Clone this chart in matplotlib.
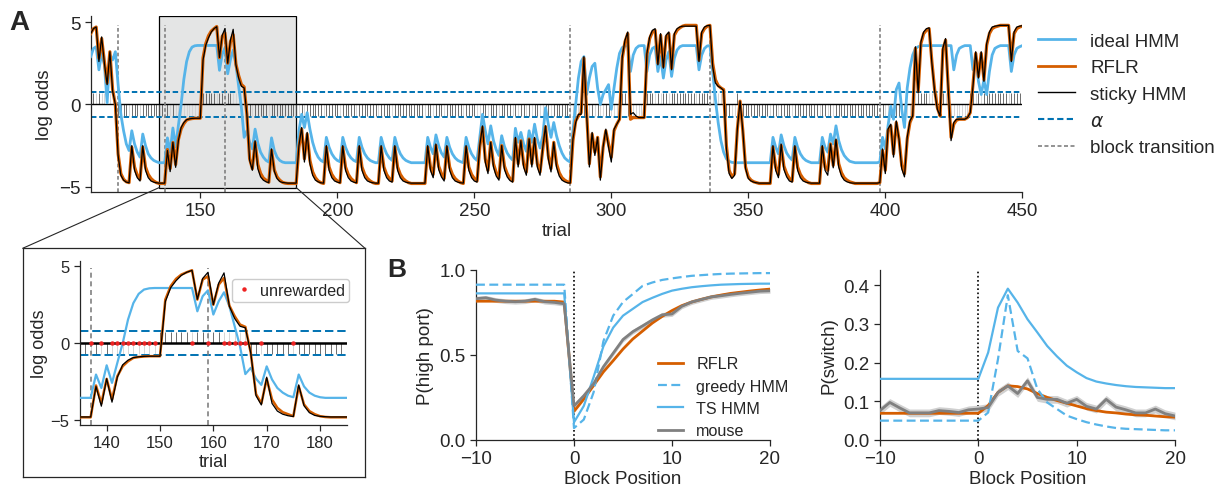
import numpy as np
import matplotlib
matplotlib.use("Agg")
import matplotlib.pyplot as plt
from matplotlib.patches import Rectangle, ConnectionPatch
from matplotlib.lines import Line2D

# ---------------- data: panel A (log odds per trial, trials 110..450) ----------------
first_trial, last_trial = 110, 450

ideal_hmm = [
    2.9, 3.4, 3.5, 2.1, 3.1, 2.4, 0.1, 3.0, 2.7, 3.2,
    1.2, -0.6, -1.6, -2.4, -2.8, -1.6, -2.4, -2.9, -3.2, -1.8,
    -2.5, -3.0, -3.25, -3.4, -3.48, -3.54, -3.54, -3.54, -2.03, -2.9,
    -1.43, -2.57, -1.27, 0.0, 1.53, 2.6, 3.2, 3.48, 3.56, 3.58,
    3.58, 3.58, 3.58, 3.58, 3.58, 3.58, 3.58, 2.07, 3.05, 3.43,
    1.86, 2.72, 3.3, 2.4, 1.1, -0.2, -2.0, -1.6, -2.3, -2.7,
    -1.5, -2.35, -2.9, -3.2, -3.4, -3.5, -2.03, -2.8, -3.2, -3.4,
    -3.5, -3.54, -3.54, -3.54, -3.54, -3.54, -1.6, -0.6, -1.4, -0.5,
    -1.5, -2.3, -2.85, -3.2, -3.4, -3.5, -2.0, -2.6, -3.0, -3.25,
    -3.4, -3.48, -2.0, -2.6, -3.0, -3.25, -3.4, -3.48, -2.0, -2.6,
    -3.0, -3.25, -3.4, -3.48, -3.54, -3.54, -2.0, -2.6, -3.0, -3.25,
    -3.4, -2.0, -2.6, -3.0, -3.25, -3.4, -3.48, -3.54, -3.54, -3.54,
    -3.54, -3.54, -3.54, -2.0, -2.6, -3.0, -1.85, -2.5, -2.95, -3.2,
    -2.0, -2.6, -3.0, -3.25, -3.4, -3.48, -3.54, -2.0, -2.6, -3.0,
    -3.25, -3.4, -2.0, -0.6, -1.6, -2.4, -1.3, -2.2, -2.75, -3.1,
    -1.9, -2.55, -2.95, -3.2, -3.38, -1.45, -2.3, -1.7, -2.4, -2.85,
    -1.6, -2.3, -1.2, -2.1, -2.65, -1.9, -0.2, -1.2, -2.0, -1.1,
    -1.9, -2.5, -2.95, -3.25, -3.4, -3.5, -1.6, 0.0, 1.6, 2.6,
    2.9, 0.6, 1.6, 2.3, 2.5, 1.0, 0.0, 0.6, 0.9, 1.2,
    -0.3, 1.0, 2.2, 3.1, 3.45, 3.55, 3.57, 2.0, 3.0, 3.4,
    3.55, 3.57, 3.57, 2.0, 3.0, 3.4, 3.5, 2.0, 2.9, 1.6,
    2.7, 3.2, 1.7, 2.8, 3.3, 3.5, 3.57, 3.57, 3.57, 3.57,
    3.57, 3.57, 2.1, 3.0, 3.4, 3.55, 3.57, 2.0, 0.3, -1.1,
    -2.2, -2.9, -3.3, -3.45, -3.52, -3.54, -3.54, -3.54, -3.54, -3.54,
    -3.54, -3.54, -3.54, -3.54, -3.54, -3.54, -3.54, -3.54, -3.54, -2.0,
    -2.6, -3.0, -1.85, -2.5, -2.95, -3.2, -3.38, -2.0, -2.6, -3.0,
    -3.25, -3.4, -3.48, -3.54, -3.54, -3.54, -3.54, -2.0, -2.6, -2.9,
    -1.8, -2.4, -1.3, -2.2, -2.75, -3.1, -3.3, -3.45, -3.5, -3.54,
    -3.54, -3.54, -3.54, -3.54, -3.54, -3.54, -3.54, -3.54, -3.5, -2.0,
    -2.7, -1.3, -0.1, -0.9, 0.9, 1.3, -0.3, -1.4, 1.0, 2.2,
    3.0, 3.4, 3.5, 3.57, 3.57, 3.57, 3.57, 3.57, 3.57, 3.57,
    3.57, 3.57, 3.57, 3.57, 3.57, 2.1, 3.0, 3.4, 3.5, 3.57,
    3.57, 3.57, 2.1, 2.9, 1.4, 0.6, 1.5, 0.6, 2.0, 3.0,
    3.4, 3.5, 3.57, 3.57, 3.57, 3.57, 2.0, 3.0, 3.4, 3.5,
    3.57,
]

rflr = [
    4.3, 4.6, 4.7, 2.8, 4.0, 2.6, 1.3, 3.2, 0.9, 0.0,
    -3.0, -4.2, -4.55, -4.7, -4.75, -2.6, -3.8, -4.3, -4.55, -2.6,
    -3.8, -4.25, -4.5, -4.65, -4.75, -4.8, -4.8, -4.8, -2.74, -3.9,
    -2.31, -3.65, -2.14, -1.49, -1.17, -0.95, -0.89, -0.86, -0.84, -0.84,
    -0.84, 2.83, 3.7, 4.17, 4.45, 4.6, 4.73, 2.83, 4.13, 4.34,
    2.5, 3.8, 4.23, 2.44, 1.75, 1.21, 1.06, -0.6, -3.3, -3.9,
    -2.31, -3.65, -4.19, -4.47, -4.6, -4.73, -2.79, -3.97, -4.4, -4.6,
    -4.73, -4.78, -4.8, -4.8, -4.8, -4.8, -2.6, -1.5, -3.3, -1.8,
    -3.4, -4.1, -4.45, -4.65, -4.75, -4.8, -2.6, -3.8, -4.25, -4.5,
    -4.65, -4.75, -2.6, -3.8, -4.25, -4.5, -4.65, -4.75, -2.6, -3.8,
    -4.25, -4.5, -4.65, -4.75, -4.8, -4.8, -2.6, -3.8, -4.25, -4.5,
    -4.65, -2.6, -3.8, -4.25, -4.5, -4.65, -4.75, -4.8, -4.8, -4.8,
    -4.8, -4.8, -4.8, -2.6, -3.8, -4.25, -2.5, -3.75, -4.2, -4.5,
    -2.6, -3.8, -4.25, -4.5, -4.65, -4.75, -4.8, -2.6, -3.8, -4.25,
    -4.5, -4.65, -2.6, -1.4, -3.3, -4.0, -2.3, -3.6, -4.15, -4.45,
    -2.5, -3.75, -4.2, -4.5, -4.65, -2.1, -3.6, -2.2, -3.6, -4.1,
    -2.1, -3.6, -2.1, -3.6, -4.1, -2.7, -1.35, -3.1, -3.9, -2.3,
    -3.6, -4.15, -4.45, -4.6, -4.7, -4.75, -2.2, -1.0, -0.7, -0.5,
    2.8, -0.5, -3.6, -1.8, -2.9, -2.0, -4.4, -2.6, -1.6, -2.4,
    -3.2, -1.6, -1.2, -0.9, 2.8, 3.8, 4.3, -0.9, -0.8, -0.8,
    -0.8, -0.8, -0.8, 3.0, 4.0, 4.4, 4.5, 2.5, 4.2, 2.3,
    4.1, 4.3, 2.2, 4.2, 4.5, 4.65, 4.75, 4.8, 4.8, 4.8,
    4.8, 4.8, 2.7, 4.3, 4.6, 4.75, 4.8, 2.5, 1.5, 1.15,
    1.0, 0.9, -2.5, -4.0, -4.4, -4.2, -1.5, 0.2, -1.6, -3.8,
    -4.4, -4.6, -4.7, -4.75, -4.8, -4.8, -4.8, -4.8, -4.8, -2.6,
    -3.8, -4.25, -2.5, -3.75, -4.2, -4.5, -4.65, -2.6, -3.8, -4.25,
    -4.5, -4.65, -4.75, -4.8, -4.8, -4.8, -4.8, -2.6, -3.8, -4.0,
    -2.4, -3.7, -2.2, -3.6, -4.15, -4.45, -4.6, -4.7, -4.75, -4.8,
    -4.8, -4.8, -4.8, -4.8, -4.8, -4.8, -4.8, -4.8, -4.75, -2.8,
    -4.0, -1.6, -1.3, -3.0, -1.1, -2.1, -3.7, -4.2, -2.1, -1.1,
    -0.7, 3.4, 0.8, 3.7, 4.3, 4.5, 4.6, 2.6, 0.9, -0.2,
    -0.7, 3.3, 3.9, 0.9, -2.0, -1.2, -0.95, -0.9, -0.9, -0.9,
    -0.8, -0.5, 1.2, 3.1, 1.7, 3.1, 1.5, 3.6, 4.3, 4.6,
    4.7, 4.75, 4.8, 4.8, 4.8, 4.8, 2.7, 4.3, 4.6, 4.7,
    4.75,
]

sticky_hmm = [
    4.3, 4.6, 4.7, 2.6, 4.1, 2.5, 1.2, 3.2, 0.8, 0.0,
    -3.1, -4.3, -4.6, -4.72, -4.76, -2.5, -4.0, -4.45, -4.65, -2.5,
    -4.0, -4.45, -4.65, -4.72, -4.76, -4.78, -4.78, -4.78, -2.8, -4.08,
    -2.3, -3.82, -2.2, -1.4, -1.1, -0.93, -0.88, -0.85, -0.84, -0.84,
    -0.84, 2.7, 3.6, 4.05, 4.4, 4.6, 4.72, 2.85, 4.2, 4.6,
    2.5, 3.9, 4.56, 2.4, 1.6, 1.1, 1.0, -0.6, -3.4, -4.0,
    -2.2, -3.9, -4.4, -4.6, -4.7, -4.75, -2.7, -4.05, -4.5, -4.68,
    -4.74, -4.76, -4.78, -4.78, -4.78, -4.78, -2.5, -1.4, -3.5, -1.7,
    -3.6, -4.3, -4.6, -4.7, -4.76, -4.78, -2.5, -4.0, -4.45, -4.65,
    -4.72, -4.76, -2.5, -4.0, -4.45, -4.65, -4.72, -4.76, -2.5, -4.0,
    -4.45, -4.65, -4.72, -4.76, -4.78, -4.78, -2.5, -4.0, -4.45, -4.65,
    -4.72, -2.5, -4.0, -4.45, -4.65, -4.72, -4.76, -4.78, -4.78, -4.78,
    -4.78, -4.78, -4.78, -2.5, -4.0, -4.45, -2.4, -3.95, -4.4, -4.65,
    -2.5, -4.0, -4.45, -4.65, -4.72, -4.76, -4.78, -2.5, -4.0, -4.45,
    -4.65, -4.72, -2.5, -1.3, -3.5, -4.2, -2.3, -3.8, -4.35, -4.6,
    -2.5, -3.95, -4.4, -4.62, -4.72, -2.0, -3.8, -2.2, -3.8, -4.3,
    -2.1, -3.8, -2.0, -3.8, -4.3, -2.6, -1.3, -3.3, -4.1, -2.3,
    -3.8, -4.35, -4.6, -4.7, -4.76, -4.78, -2.1, -1.1, -0.6, -0.6,
    2.9, -0.6, -3.8, -1.7, -3.1, -2.0, -4.6, -2.6, -1.5, -2.6,
    -3.5, -1.5, -1.2, -0.9, 2.9, 3.9, 4.4, -0.6, -0.5, -0.7,
    -0.8, -0.8, -0.8, 3.1, 4.1, 4.5, 4.6, 2.4, 4.3, 2.2,
    4.2, 4.4, 2.1, 4.3, 4.6, 4.7, 4.75, 4.75, 4.75, 4.75,
    4.75, 4.75, 2.6, 4.4, 4.7, 4.78, 4.8, 2.3, 1.3, 1.1,
    1.0, 0.85, -2.7, -4.2, -4.5, -4.3, -1.5, 0.2, -1.6, -3.9,
    -4.5, -4.65, -4.72, -4.76, -4.78, -4.78, -4.78, -4.78, -4.78, -2.5,
    -4.0, -4.45, -2.4, -3.95, -4.4, -4.65, -4.72, -2.5, -4.0, -4.45,
    -4.65, -4.72, -4.76, -4.78, -4.78, -4.78, -4.78, -2.5, -4.0, -4.3,
    -2.4, -3.85, -2.1, -3.8, -4.35, -4.6, -4.7, -4.75, -4.78, -4.78,
    -4.78, -4.78, -4.78, -4.78, -4.78, -4.78, -4.78, -4.78, -4.75, -2.7,
    -4.2, -1.5, -1.2, -3.2, -1.0, -2.1, -3.9, -4.4, -2.0, -1.0,
    -0.7, 3.5, 0.7, 3.8, 4.4, 4.6, 4.65, 2.5, 0.8, -0.3,
    -0.7, 3.4, 4.0, 0.8, -2.2, -1.1, -0.9, -0.9, -0.9, -0.9,
    -0.8, -0.5, 1.1, 3.2, 1.6, 3.2, 1.4, 3.7, 4.4, 4.7,
    4.75, 4.78, 4.8, 4.8, 4.8, 4.8, 2.6, 4.4, 4.7, 4.75,
    4.78,
]

# choice per trial (R = up stem, L = down stem), trials 110..450
choices = (
    "RRRRRRRRRL" "LLLLLLLLLL" "LLLLLLLLLL" "LLLLLLLLLL" "RRRRRRRRRR"
    "RRRRRRRLLL" "LLLLLLLLLL" "LLLLLLLLLL" "LLLLLLLLLL" "LLLLLLLLLL"
    "LLLLLLLLLL" "LLLLLLLLLL" "LLLLLLLLLL" "LLLLLLLLLL" "LLLLLLLLLL"
    "LLLLLLLLLL" "LLLLLLLLLL" "LLLLLLLLLR" "LLLLLLLLLL" "LLLRRRLLLL"
    "LLRRRRRRRR" "RRRRRRRRRR" "RRRRRRRRRR" "RLLLLLRLLL" "LLLLLLLLLL"
    "LLLLLLLLLL" "LLLLLLLLLL" "LLLLLLLLLL" "LLLLLLLLLL" "LLLLLLLLLL"
    "RRRRRRRRRR" "RRRLLLLLLL" "LRRRRRRRRR" "RRRRRRRRRR" "R"
)

unrewarded = [112, 114, 115, 117, 118, 124, 128, 137, 139, 141, 142, 143, 144,
              145, 146, 147, 148, 149, 156, 159, 162, 163, 164, 165, 166, 169,
              175, 186, 188, 195, 201, 207, 215, 220, 232, 235, 239, 246,
              251, 252, 255, 259, 264, 266, 269, 271, 274, 275, 278, 285, 286,
              287, 288, 292, 294, 296, 297, 300, 301, 302, 307, 308, 309, 310,
              311, 316, 318, 321, 331, 336, 337, 338, 339, 340, 344, 345, 358,
              361, 366, 376, 379, 381, 398, 400, 401, 403, 407, 408, 409, 411,
              416, 417, 418, 419, 422, 424, 425, 426, 427, 428, 429, 430, 433,
              435, 445]

block_transitions = [120, 137, 159, 285, 336, 398]
alpha_threshold = 0.78
stem_height = 0.72
inset_range = (135, 185)

# ---------------- data: panel B ----------------
block_pos = list(range(-10, 21))

phigh_rflr = [0.815, 0.815, 0.815, 0.815, 0.815, 0.815, 0.815, 0.815, 0.815, 0.81,
              0.168, 0.24, 0.32, 0.40, 0.466, 0.534, 0.593, 0.64, 0.687, 0.726,
              0.76, 0.789, 0.81, 0.826, 0.84, 0.851, 0.861, 0.868, 0.875, 0.881, 0.886]
phigh_greedy = [0.912, 0.912, 0.912, 0.912, 0.912, 0.912, 0.912, 0.912, 0.912, 0.912,
                0.07, 0.12, 0.28, 0.58, 0.73, 0.81, 0.857, 0.905, 0.925, 0.94,
                0.949, 0.957, 0.964, 0.968, 0.972, 0.975, 0.977, 0.978, 0.979, 0.98, 0.98]
phigh_ts = [0.861, 0.861, 0.861, 0.861, 0.861, 0.861, 0.861, 0.861, 0.861, 0.861,
            0.104, 0.2, 0.37, 0.55, 0.66, 0.73, 0.77, 0.81, 0.835, 0.858,
            0.877, 0.888, 0.897, 0.903, 0.908, 0.912, 0.914, 0.916, 0.917, 0.918, 0.918]
phigh_mouse = [0.83, 0.835, 0.822, 0.815, 0.812, 0.815, 0.826, 0.812, 0.808, 0.80,
               0.2, 0.26, 0.33, 0.43, 0.51, 0.59, 0.636, 0.67, 0.705, 0.735,
               0.74, 0.785, 0.81, 0.825, 0.84, 0.847, 0.855, 0.862, 0.868, 0.874, 0.876]
phigh_mouse_sem = 0.014

pswitch_rflr = [0.069, 0.069, 0.069, 0.069, 0.069, 0.069, 0.069, 0.069, 0.069, 0.069,
                0.069, 0.089, 0.123, 0.14, 0.138, 0.132, 0.12, 0.11, 0.102, 0.095,
                0.088, 0.081, 0.076, 0.072, 0.07, 0.067, 0.065, 0.064, 0.062, 0.06, 0.059]
pswitch_greedy = [0.05, 0.05, 0.05, 0.05, 0.05, 0.05, 0.05, 0.05, 0.05, 0.05,
                  0.05, 0.071, 0.209, 0.374, 0.23, 0.211, 0.132, 0.097, 0.08, 0.063,
                  0.054, 0.046, 0.04, 0.035, 0.031, 0.029, 0.028, 0.027, 0.026, 0.025, 0.025]
pswitch_ts = [0.158, 0.158, 0.158, 0.158, 0.158, 0.158, 0.158, 0.158, 0.158, 0.158,
              0.158, 0.226, 0.342, 0.391, 0.355, 0.312, 0.278, 0.243, 0.216, 0.192,
              0.175, 0.16, 0.151, 0.146, 0.142, 0.139, 0.137, 0.136, 0.135, 0.134, 0.134]
pswitch_mouse = [0.076, 0.097, 0.083, 0.07, 0.07, 0.07, 0.076, 0.074, 0.071, 0.078,
                 0.08, 0.084, 0.123, 0.14, 0.12, 0.153, 0.11, 0.105, 0.105, 0.095,
                 0.105, 0.087, 0.08, 0.105, 0.085, 0.078, 0.07, 0.07, 0.08, 0.068, 0.062]
pswitch_mouse_sem = 0.01

# ---------------- style ----------------
SKY = "#56B4E9"
VERM = "#D55E00"
BLUE = "#0072B2"
GRAY = "#808080"
INK = "#262626"

plt.rcParams["font.family"] = ["Liberation Sans", "DejaVu Sans"]
plt.rcParams["font.size"] = 13.5
plt.rcParams["text.color"] = INK
plt.rcParams["axes.labelcolor"] = INK
plt.rcParams["axes.edgecolor"] = INK
plt.rcParams["xtick.color"] = INK
plt.rcParams["ytick.color"] = INK
plt.rcParams["axes.linewidth"] = 0.9
plt.rcParams["xtick.major.width"] = 0.9
plt.rcParams["ytick.major.width"] = 0.9
plt.rcParams["xtick.major.size"] = 4
plt.rcParams["ytick.major.size"] = 4
plt.rcParams["axes.unicode_minus"] = True

W, H = 1221, 489
fig = plt.figure(figsize=(W / 100, H / 100), dpi=100)


def box(x0, y0, x1, y1):
    return [x0 / W, 1 - y1 / H, (x1 - x0) / W, (y1 - y0) / H]


def despine(a):
    a.spines["top"].set_visible(False)
    a.spines["right"].set_visible(False)


trials = np.arange(first_trial, last_trial + 1)
ideal_arr = np.array(ideal_hmm)
rflr_arr = np.array(rflr)
sticky_arr = np.array(sticky_hmm)
direction = np.array([1 if c == "R" else -1 for c in choices])
is_unrew = np.isin(trials, unrewarded)
stem_colors = np.where(is_unrew, "#d0d0d0", "#555555")

YLIM = (-5.3, 5.35)


def draw_logodds(a, sel, lw_scale, dash_alpha, dash_block, zero_lw):
    t = trials[sel]
    a.vlines(t, 0, stem_height * direction[sel], colors=stem_colors[sel],
             lw=0.6, zorder=1)
    a.axhline(0, color="k", lw=zero_lw, zorder=2)
    for s in (1, -1):
        a.axhline(s * alpha_threshold, color=BLUE, lw=1.4, ls=(0, dash_alpha), zorder=2)
    bt = [b for b in block_transitions if t.min() <= b <= t.max()]
    a.vlines(bt, YLIM[0], 4.85, colors=GRAY, lw=1.2, ls=(0, dash_block), zorder=2)
    a.plot(t, ideal_arr[sel], color=SKY, lw=2.0 * lw_scale, zorder=3)
    a.plot(t, rflr_arr[sel], color=VERM, lw=2.3 * lw_scale, zorder=4)
    a.plot(t, sticky_arr[sel], color="k", lw=0.9, zorder=5)


# ---------------- panel A main ----------------
ax = fig.add_axes(box(90.7, 17.3, 1022.3, 192.7))
despine(ax)
ax.set_xlim(first_trial, last_trial)
ax.set_ylim(*YLIM)
ax.add_patch(Rectangle((inset_range[0], -5.05), inset_range[1] - inset_range[0],
                       YLIM[1] + 5.05, facecolor="#e4e5e5", edgecolor="k",
                       lw=0.9, zorder=0))
draw_logodds(ax, np.ones_like(trials, dtype=bool), 1.0, (2.8, 1.4), (2.2, 1.5), 1.0)
ax.set_xticks([150, 200, 250, 300, 350, 400, 450])
ax.set_yticks([-5, 0, 5])
ax.set_xlabel("trial", labelpad=2)
ax.set_ylabel("log odds", labelpad=4)

handles = [
    Line2D([], [], color=SKY, lw=2.0),
    Line2D([], [], color=VERM, lw=2.0),
    Line2D([], [], color="k", lw=1.0),
    Line2D([], [], color=BLUE, lw=1.5, ls=(0, (3.0, 1.6))),
    Line2D([], [], color=GRAY, lw=1.2, ls=(0, (2.4, 1.5))),
]
labels = ["ideal HMM", "RFLR", "sticky HMM", r"$\alpha$", "block transition"]
fig.legend(handles, labels, loc="upper left", bbox_to_anchor=(1030 / W, 1 - 26 / H),
           frameon=False, handlelength=2.0, handletextpad=0.8, labelspacing=0.51,
           fontsize=13.5, borderaxespad=0.0)

# ---------------- inset frame and inset ----------------
frame = fig.add_axes(box(22.7, 249.3, 365, 478))
frame.set_xticks([])
frame.set_yticks([])
frame.patch.set_alpha(0)
for s in frame.spines.values():
    s.set_linewidth(0.9)

axi = fig.add_axes(box(80, 261.7, 346.7, 426))
despine(axi)
axi.set_xlim(*inset_range)
axi.set_ylim(*YLIM)
sel = (trials >= inset_range[0]) & (trials <= inset_range[1])
draw_logodds(axi, sel, 0.8, (4.3, 2.0), (3.0, 2.2), 1.8)
ur = trials[sel & is_unrew]
axi.plot(ur, np.zeros(len(ur)), "o", color="#ee2222", ms=3.2, mec="none", zorder=6,
         label="unrewarded")
axi.set_xticks([140, 150, 160, 170, 180])
axi.set_yticks([-5, 0, 5])
axi.tick_params(labelsize=12)
axi.set_xlabel("trial", fontsize=13, labelpad=2)
axi.set_ylabel("log odds", fontsize=13, labelpad=2)
axi.legend(loc="upper left", bbox_to_anchor=(232 / W, 1 - 280 / H),
           bbox_transform=fig.transFigure, fontsize=11.6, handlelength=1.0,
           handletextpad=0.5, borderpad=0.25, borderaxespad=0.0, framealpha=1,
           edgecolor="#cccccc")

for xa, xb in ((inset_range[0], 22.7), (inset_range[1], 365)):
    con = ConnectionPatch(xyA=(xa, -5.05), coordsA=ax.transData,
                          xyB=(xb / W, 1 - 249.3 / H), coordsB=fig.transFigure,
                          color=INK, lw=0.8)
    fig.add_artist(con)

# ---------------- panel B ----------------
axb1 = fig.add_axes(box(476, 270.7, 770, 441))
despine(axb1)
axb1.axvline(0, color="k", ls=(0, (1, 1.5)), lw=1.2, zorder=1)
axb1.fill_between(block_pos, np.array(phigh_mouse) - phigh_mouse_sem,
                  np.array(phigh_mouse) + phigh_mouse_sem, color="#d0d0d0",
                  lw=0, zorder=2)
axb1.plot(block_pos, phigh_rflr, color=VERM, lw=2.0, label="RFLR", zorder=3)
axb1.plot(block_pos, phigh_greedy, color=SKY, lw=1.6, ls=(0, (4.0, 2.0)),
          label="greedy HMM", zorder=3)
axb1.plot(block_pos, phigh_ts, color=SKY, lw=1.6, label="TS HMM", zorder=3)
axb1.plot(block_pos, phigh_mouse, color=GRAY, lw=2.0, label="mouse", zorder=4)
axb1.set_xlim(-10, 20)
axb1.set_ylim(0, 1.0)
axb1.set_xticks([-10, 0, 10, 20])
axb1.set_yticks([0.0, 0.5, 1.0])
axb1.set_yticklabels(["0.0", "0.5", "1.0"])
axb1.set_xlabel("Block Position", labelpad=2)
axb1.set_ylabel("P(high port)", labelpad=4)
axb1.legend(loc="upper left", bbox_to_anchor=(652 / W, 1 - 351 / H),
            bbox_transform=fig.transFigure, frameon=False, fontsize=11.6,
            handlelength=1.55, handletextpad=0.8, labelspacing=0.45,
            borderaxespad=0.0)

axb2 = fig.add_axes(box(880, 270.7, 1175, 441))
despine(axb2)
axb2.axvline(0, color="k", ls=(0, (1, 1.5)), lw=1.2, zorder=1)
axb2.fill_between(block_pos, np.array(pswitch_mouse) - pswitch_mouse_sem,
                  np.array(pswitch_mouse) + pswitch_mouse_sem, color="#d0d0d0",
                  lw=0, zorder=2)
axb2.plot(block_pos, pswitch_rflr, color=VERM, lw=2.0, zorder=3)
axb2.plot(block_pos, pswitch_greedy, color=SKY, lw=1.6, ls=(0, (4.0, 2.0)), zorder=3)
axb2.plot(block_pos, pswitch_ts, color=SKY, lw=1.6, zorder=3)
axb2.plot(block_pos, pswitch_mouse, color=GRAY, lw=2.0, zorder=4)
axb2.set_xlim(-10, 20)
axb2.set_ylim(0, 0.44)
axb2.set_xticks([-10, 0, 10, 20])
axb2.set_yticks([0.0, 0.1, 0.2, 0.3, 0.4])
axb2.set_yticklabels(["0.0", "0.1", "0.2", "0.3", "0.4"])
axb2.set_xlabel("Block Position", labelpad=2)
axb2.set_ylabel("P(switch)", labelpad=4)

fig.text(19 / W, 1 - 23 / H, "A", fontsize=20, fontweight="bold", ha="center", va="center")
fig.text(397 / W, 1 - 270 / H, "B", fontsize=19, fontweight="bold", ha="center", va="center")

fig.savefig("out.png", dpi=100)
